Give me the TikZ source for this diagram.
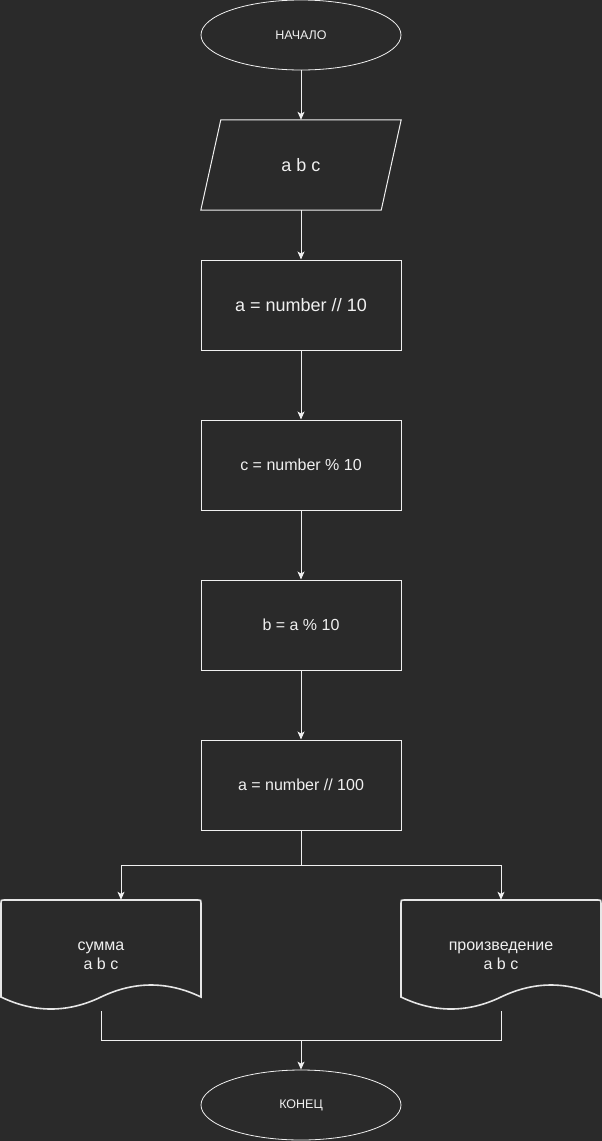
\documentclass[tikz,border=0pt]{standalone}
\usepackage{fontspec}
\setmainfont{Liberation Sans}
\usetikzlibrary{arrows.meta,shapes.geometric}
\definecolor{bg}{HTML}{2A2A2A}
\definecolor{fg}{HTML}{F0F0F0}
\definecolor{docfg}{HTML}{E6E6E6}
\begin{document}
\begin{tikzpicture}[x=1pt,y=-1pt,
  txt/.style={text=fg, inner sep=0pt, align=center},
  term/.style={txt, ellipse, draw=fg, line width=0.8pt, minimum width=200pt, minimum height=70pt, font=\fontsize{12.5}{15}\selectfont},
  proc/.style={txt, rectangle, draw=fg, line width=1pt, minimum width=200pt, minimum height=90pt, font=\fontsize{16}{19}\selectfont},
  bigtext/.style={font=\fontsize{18}{21}\selectfont},
  iobox/.style={txt, rectangle, minimum width=200pt, minimum height=90pt, font=\fontsize{18}{21}\selectfont},
  docbox/.style={txt, rectangle, minimum width=200pt, minimum height=111pt, font=\fontsize{16}{19}\selectfont},
  shapeline/.style={draw=fg, line width=1pt, line join=miter},
  docline/.style={draw=docfg, line width=1.6pt},
  ln/.style={draw=fg, line width=1pt},
  arr/.style={draw=fg, line width=1pt, -{Stealth[length=8pt,width=7pt,inset=2pt]}}]
\fill[bg] (0,0) rectangle (602,1141);
\useasboundingbox (0,0) rectangle (602,1141);
% nodes
\node[term] (start) at (301,35) {НАЧАЛО};
\node[iobox] (io) at (301,165) {a b c};
\draw[shapeline] ([xshift=20pt]io.north west) -- (io.north east) -- ([xshift=-20pt]io.south east) -- (io.south west) -- cycle;
\node[proc, bigtext] (p1) at (301,305) {a = number // 10};
\node[proc] (p2) at (301,465) {c = number \% 10};
\node[proc] (p3) at (301,625) {b = a \% 10};
\node[proc] (p4) at (301,785) {a = number // 100};
\node[docbox] (d1) at (101,955.5) {сумма\\a b c};
\node[docbox] (d2) at (501,955.5) {произведение\\a b c};
\foreach \cx in {101,501}{
  \draw[docline] (\cx-100,997) -- (\cx-100,903) .. controls (\cx-100,900) .. (\cx-97,900)
    -- (\cx+97,900) .. controls (\cx+100,900) .. (\cx+100,903) -- (\cx+100,997)
    .. controls (\cx+66.7,981) and (\cx+33.3,981) .. (\cx,997)
    .. controls (\cx-33.3,1013) and (\cx-66.7,1013) .. (\cx-100,997) -- cycle;
}
\node[term] (end) at (301,1105) {КОНЕЦ};
% connectors
\draw[arr] (start.south) -- (io.north);
\draw[arr] (io.south) -- (p1.north);
\draw[arr] (p1.south) -- (p2.north);
\draw[arr] (p2.south) -- (p3.north);
\draw[arr] (p3.south) -- (p4.north);
\coordinate (split) at (301,865);
\draw[ln] (p4.south) -- (split);
\draw[arr] (split) -| ([xshift=20pt]d1.north);
\draw[arr] (split) -| (d2.north);
\coordinate (merge) at (301,1040);
\draw[ln] (d1.south) |- (merge) -| (d2.south);
\draw[arr] (merge) -- (end.north);
\end{tikzpicture}
\end{document}
